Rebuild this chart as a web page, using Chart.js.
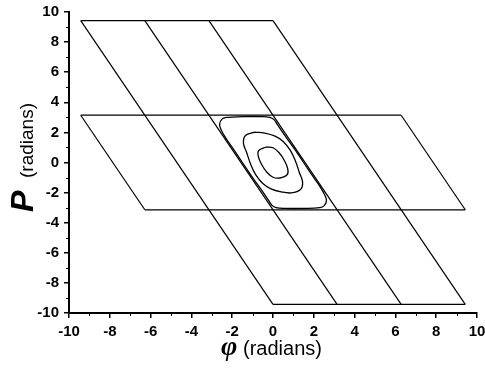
<!DOCTYPE html>
<html>
<head>
<meta charset="utf-8">
<script src="https://cdn.jsdelivr.net/npm/chart.js@4.4.1/dist/chart.umd.min.js"></script>
<style>
  html, body { margin:0; padding:0; background:#fff; }
  #wrap { width:485px; height:377px; }
</style>
</head>
<body>
<div id="wrap"><canvas id="phase"></canvas></div>
<script>
// Phase portrait, P vs phi. Lattice endpoints are in units of pi.

// ---------- data ----------
const tickValues = [-10, -8, -6, -4, -2, 0, 2, 4, 6, 8, 10];

// horizontal separatrix pieces: [y, xStart, xEnd] (units of pi)
const horizontalLines = [
  [3, -3, 0],
  [1, -3, 2],
  [-1, -2, 3],
  [-3, 0, 3]
];
// slanted pieces: [xTop, yTop, xBottom, yBottom] (units of pi)
const slantedLines = [
  [-3, 3, 0, -3],
  [-2, 3, 1, -3],
  [-1, 3, 2, -3],
  [0, 3, 3, -3],
  [-3, 1, -2, -1],
  [2, 1, 3, -1]
];

// closed orbits around the origin (radians)
const outerLoopX = [-2.3, -1.5, -0.6, -0.15, 0.05, 0.2, 0.5, 1.0, 1.5, 2.0, 2.35, 2.55, 2.62, 2.5, 2.3, 1.5, 0.6, 0.15, -0.05, -0.2, -0.5, -1.0, -1.5, -2.0, -2.35, -2.55, -2.62, -2.5, -2.3];
const outerLoopY = [3.0, 3.05, 3.05, 3.0, 2.85, 2.55, 1.95, 1.0, 0.0, -1.0, -1.7, -2.2, -2.55, -2.88, -3.0, -3.05, -3.05, -3.0, -2.85, -2.55, -1.95, -1.0, 0.0, 1.0, 1.7, 2.2, 2.55, 2.88, 3.0];

const middleLoopX = [-0.9, -0.4, 0.1, 0.5, 0.85, 1.1, 1.3, 1.45, 1.35, 0.9, 0.4, -0.1, -0.5, -0.85, -1.1, -1.3, -1.45, -1.35, -0.9];
const middleLoopY = [2.02, 1.95, 1.75, 1.4, 0.8, 0.1, -0.7, -1.3, -1.8, -2.02, -1.95, -1.75, -1.4, -0.8, -0.1, 0.7, 1.3, 1.8, 2.02];

const innerLoopX = [-0.33, 0.0, 0.3, 0.55, 0.72, 0.7, 0.33, 0.0, -0.3, -0.55, -0.72, -0.7, -0.33];
const innerLoopY = [1.03, 0.98, 0.65, 0.15, -0.4, -0.8, -1.03, -0.98, -0.65, -0.15, 0.4, 0.8, 1.03];

// ---------- build datasets ----------
const PI = Math.PI;
const lineStyle = { showLine:true, pointRadius:0, borderColor:'#000', borderWidth:1.2, fill:false, tension:0 };

const datasets = [];
horizontalLines.forEach(h => {
  datasets.push({ ...lineStyle, data:[{x:h[1]*PI, y:h[0]*PI}, {x:h[2]*PI, y:h[0]*PI}] });
});
slantedLines.forEach(s => {
  datasets.push({ ...lineStyle, data:[{x:s[0]*PI, y:s[1]*PI}, {x:s[2]*PI, y:s[3]*PI}] });
});
function loop(xs, ys){
  return { ...lineStyle, borderWidth:1.3, tension:0.4, data: xs.map((x,i) => ({x, y:ys[i]})) };
}
datasets.push(loop(outerLoopX, outerLoopY));
datasets.push(loop(middleLoopX, middleLoopY));
datasets.push(loop(innerLoopX, innerLoopY));

// ---------- plugins ----------
// minor ticks at odd values, shorter than the major ones
const minorTicks = {
  id:'minorTicks',
  afterDraw(chart){
    const {ctx, scales:{x, y}, chartArea:a} = chart;
    ctx.save();
    ctx.strokeStyle = '#000';
    ctx.lineWidth = 1;
    for(let v=-9; v<=9; v+=2){
      const px = Math.round(x.getPixelForValue(v)) + 0.5;
      ctx.beginPath(); ctx.moveTo(px, a.bottom); ctx.lineTo(px, a.bottom+3); ctx.stroke();
      const py = Math.round(y.getPixelForValue(v)) + 0.5;
      ctx.beginPath(); ctx.moveTo(a.left, py); ctx.lineTo(a.left-3, py); ctx.stroke();
    }
    ctx.restore();
  }
};

// axis titles with a big italic symbol followed by the unit
const axisTitles = {
  id:'axisTitles',
  afterDraw(chart){
    const ctx = chart.ctx;
    ctx.save();
    ctx.fillStyle = '#000';
    ctx.textBaseline = 'alphabetic';
    ctx.textAlign = 'left';
    // x
    ctx.font = 'italic bold 28px "Liberation Serif"';
    ctx.fillText('\u03C6', 221, 355);
    ctx.font = '20px "Liberation Sans"';
    ctx.fillText('(radians)', 243, 355);
    // y
    ctx.translate(33, 212);
    ctx.rotate(-Math.PI/2);
    ctx.font = 'italic bold 32px "Liberation Sans"';
    ctx.fillText('P', 0, 0);
    ctx.font = '19px "Liberation Sans"';
    ctx.fillText('(radians)', 34, 0);
    ctx.restore();
  }
};

// ---------- chart ----------
const tickFont = { family:'"Liberation Sans", Arial, sans-serif', size:15, weight:'bold' };

new Chart(document.getElementById('phase'), {
  type:'scatter',
  data:{ datasets },
  options:{
    responsive:true,
    maintainAspectRatio:false,
    animation:false,
    layout:{ padding:{ top:12, right:8, left:0, bottom:0 } },
    plugins:{ legend:{display:false}, tooltip:{enabled:false} },
    scales:{
      x:{
        type:'linear', min:-10, max:10,
        afterBuildTicks(s){ s.ticks = tickValues.map(v => ({value:v})); },
        afterFit(s){ s.height = 64; s.paddingLeft = 0; s.paddingRight = 0; },
        grid:{ drawOnChartArea:false, drawTicks:true, tickLength:5, color:'#000', lineWidth:1.5 },
        border:{ display:true, color:'#000', width:2 },
        ticks:{ color:'#000', font:tickFont, padding:5, maxRotation:0 }
      },
      y:{
        type:'linear', min:-10, max:10,
        afterBuildTicks(s){ s.ticks = tickValues.map(v => ({value:v})); },
        afterFit(s){ s.width = 69; s.paddingTop = 0; s.paddingBottom = 0; },
        grid:{ drawOnChartArea:false, drawTicks:true, tickLength:5, color:'#000', lineWidth:1.5 },
        border:{ display:true, color:'#000', width:2 },
        ticks:{ color:'#000', font:tickFont, padding:5 }
      }
    }
  },
  plugins:[minorTicks, axisTitles]
});
</script>
</body>
</html>
